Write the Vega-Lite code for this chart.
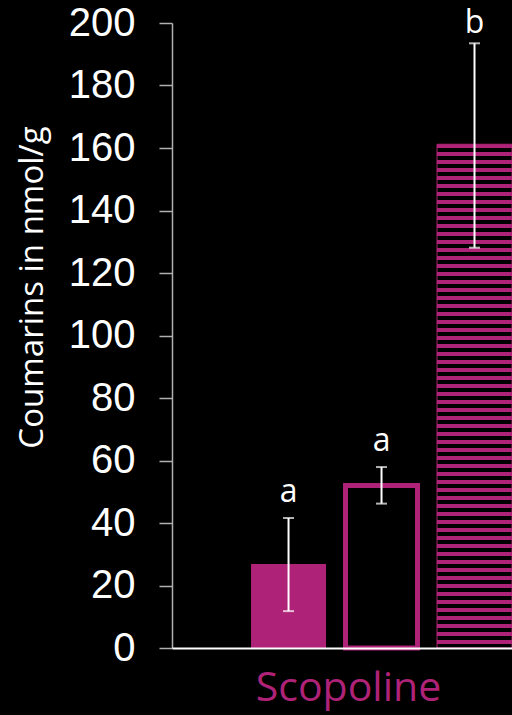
{
  "$schema": "https://vega.github.io/schema/vega-lite/v6.json",
  "width": 340,
  "height": 625,
  "autosize": {"type": "none"},
  "padding": {"left": 172, "top": 23, "right": 0, "bottom": 67},
  "background": "black",
  "config": {"view": {"stroke": null}},
  "data": {"values": [
    {"cond": "A", "mean": 26.9, "lo": 11.8, "hi": 41.6, "letter": "a"},
    {"cond": "B", "mean": 52.0, "lo": 46.2, "hi": 57.9, "letter": "a"},
    {"cond": "C", "mean": 161.2, "lo": 128.1, "hi": 193.5, "letter": "b"}
  ]},
  "encoding": {
    "x": {
      "field": "cond", "type": "nominal", "sort": ["A", "B", "C"],
      "scale": {"paddingInner": 0.1935, "paddingOuter": 0.425, "align": 1},
      "axis": {
        "title": "Scopoline", "labels": false, "ticks": false,
        "domainColor": "white", "domainWidth": 2, "zindex": 1,
        "titleColor": "#AE2277", "titleFont": "Open Sans", "titleFontSize": 41, "titleFontWeight": "normal",
        "titleX": 176, "titleY": 52, "titleAlign": "center", "titleBaseline": "alphabetic"
      }
    }
  },
  "layer": [
    {
      "transform": [{"filter": "datum.cond === 'A'"}],
      "mark": {"type": "bar", "fill": "#AE2277", "width": {"band": 1}},
      "encoding": {
        "y": {
          "field": "mean", "type": "quantitative", "title": "Coumarins in nmol/g",
          "scale": {"domain": [0, 200], "nice": false},
          "axis": {
            "values": [0, 20, 40, 60, 80, 100, 120, 140, 160, 180, 200],
            "grid": false, "domainColor": "#b0b0b0", "domainWidth": 1.5,
            "tickColor": "#b0b0b0", "tickWidth": 1.5, "tickSize": 13,
            "labelColor": "white", "labelFont": "Liberation Sans", "labelFontSize": 40,
            "labelPadding": 24, "labelOverlap": false, "labelFlush": false,
            "titleColor": "white", "titleFont": "Open Sans", "titleFontSize": 33, "titleFontWeight": "normal",
            "titleAngle": -90, "titleX": -130, "titleY": 264, "titleAlign": "center", "titleBaseline": "alphabetic"
          }
        }
      }
    },
    {
      "transform": [{"filter": "datum.cond === 'B'"}],
      "mark": {"type": "bar", "fill": "black", "stroke": "#AE2277", "strokeWidth": 5, "width": {"band": 0.96}},
      "encoding": {"y": {"field": "mean", "type": "quantitative", "title": "Coumarins in nmol/g"}}
    },
    {
      "transform": [{"filter": "datum.cond === 'C'"}],
      "mark": {
        "type": "bar", "stroke": "#AE2277", "strokeWidth": 1, "width": {"band": 1},
        "fill": {
          "gradient": "linear", "x1": 0, "y1": 0, "x2": 0, "y2": 1,
          "stops": [
            {"offset": 0, "color": "#AE2277"}, {"offset": 0.006944, "color": "#AE2277"}, {"offset": 0.006944, "color": "black"}, {"offset": 0.015873, "color": "black"},
            {"offset": 0.015873, "color": "#AE2277"}, {"offset": 0.022817, "color": "#AE2277"}, {"offset": 0.022817, "color": "black"}, {"offset": 0.031746, "color": "black"},
            {"offset": 0.031746, "color": "#AE2277"}, {"offset": 0.038690, "color": "#AE2277"}, {"offset": 0.038690, "color": "black"}, {"offset": 0.047619, "color": "black"},
            {"offset": 0.047619, "color": "#AE2277"}, {"offset": 0.054563, "color": "#AE2277"}, {"offset": 0.054563, "color": "black"}, {"offset": 0.063492, "color": "black"},
            {"offset": 0.063492, "color": "#AE2277"}, {"offset": 0.070436, "color": "#AE2277"}, {"offset": 0.070436, "color": "black"}, {"offset": 0.079365, "color": "black"},
            {"offset": 0.079365, "color": "#AE2277"}, {"offset": 0.086309, "color": "#AE2277"}, {"offset": 0.086309, "color": "black"}, {"offset": 0.095238, "color": "black"},
            {"offset": 0.095238, "color": "#AE2277"}, {"offset": 0.102182, "color": "#AE2277"}, {"offset": 0.102182, "color": "black"}, {"offset": 0.111111, "color": "black"},
            {"offset": 0.111111, "color": "#AE2277"}, {"offset": 0.118055, "color": "#AE2277"}, {"offset": 0.118055, "color": "black"}, {"offset": 0.126984, "color": "black"},
            {"offset": 0.126984, "color": "#AE2277"}, {"offset": 0.133928, "color": "#AE2277"}, {"offset": 0.133928, "color": "black"}, {"offset": 0.142857, "color": "black"},
            {"offset": 0.142857, "color": "#AE2277"}, {"offset": 0.149801, "color": "#AE2277"}, {"offset": 0.149801, "color": "black"}, {"offset": 0.158730, "color": "black"},
            {"offset": 0.158730, "color": "#AE2277"}, {"offset": 0.165674, "color": "#AE2277"}, {"offset": 0.165674, "color": "black"}, {"offset": 0.174603, "color": "black"},
            {"offset": 0.174603, "color": "#AE2277"}, {"offset": 0.181547, "color": "#AE2277"}, {"offset": 0.181547, "color": "black"}, {"offset": 0.190476, "color": "black"},
            {"offset": 0.190476, "color": "#AE2277"}, {"offset": 0.197420, "color": "#AE2277"}, {"offset": 0.197420, "color": "black"}, {"offset": 0.206349, "color": "black"},
            {"offset": 0.206349, "color": "#AE2277"}, {"offset": 0.213293, "color": "#AE2277"}, {"offset": 0.213293, "color": "black"}, {"offset": 0.222222, "color": "black"},
            {"offset": 0.222222, "color": "#AE2277"}, {"offset": 0.229166, "color": "#AE2277"}, {"offset": 0.229166, "color": "black"}, {"offset": 0.238095, "color": "black"},
            {"offset": 0.238095, "color": "#AE2277"}, {"offset": 0.245039, "color": "#AE2277"}, {"offset": 0.245039, "color": "black"}, {"offset": 0.253968, "color": "black"},
            {"offset": 0.253968, "color": "#AE2277"}, {"offset": 0.260912, "color": "#AE2277"}, {"offset": 0.260912, "color": "black"}, {"offset": 0.269841, "color": "black"},
            {"offset": 0.269841, "color": "#AE2277"}, {"offset": 0.276785, "color": "#AE2277"}, {"offset": 0.276785, "color": "black"}, {"offset": 0.285714, "color": "black"},
            {"offset": 0.285714, "color": "#AE2277"}, {"offset": 0.292658, "color": "#AE2277"}, {"offset": 0.292658, "color": "black"}, {"offset": 0.301587, "color": "black"},
            {"offset": 0.301587, "color": "#AE2277"}, {"offset": 0.308531, "color": "#AE2277"}, {"offset": 0.308531, "color": "black"}, {"offset": 0.317460, "color": "black"},
            {"offset": 0.317460, "color": "#AE2277"}, {"offset": 0.324404, "color": "#AE2277"}, {"offset": 0.324404, "color": "black"}, {"offset": 0.333333, "color": "black"},
            {"offset": 0.333333, "color": "#AE2277"}, {"offset": 0.340277, "color": "#AE2277"}, {"offset": 0.340277, "color": "black"}, {"offset": 0.349206, "color": "black"},
            {"offset": 0.349206, "color": "#AE2277"}, {"offset": 0.356150, "color": "#AE2277"}, {"offset": 0.356150, "color": "black"}, {"offset": 0.365079, "color": "black"},
            {"offset": 0.365079, "color": "#AE2277"}, {"offset": 0.372023, "color": "#AE2277"}, {"offset": 0.372023, "color": "black"}, {"offset": 0.380952, "color": "black"},
            {"offset": 0.380952, "color": "#AE2277"}, {"offset": 0.387896, "color": "#AE2277"}, {"offset": 0.387896, "color": "black"}, {"offset": 0.396825, "color": "black"},
            {"offset": 0.396825, "color": "#AE2277"}, {"offset": 0.403769, "color": "#AE2277"}, {"offset": 0.403769, "color": "black"}, {"offset": 0.412698, "color": "black"},
            {"offset": 0.412698, "color": "#AE2277"}, {"offset": 0.419642, "color": "#AE2277"}, {"offset": 0.419642, "color": "black"}, {"offset": 0.428571, "color": "black"},
            {"offset": 0.428571, "color": "#AE2277"}, {"offset": 0.435515, "color": "#AE2277"}, {"offset": 0.435515, "color": "black"}, {"offset": 0.444444, "color": "black"},
            {"offset": 0.444444, "color": "#AE2277"}, {"offset": 0.451388, "color": "#AE2277"}, {"offset": 0.451388, "color": "black"}, {"offset": 0.460317, "color": "black"},
            {"offset": 0.460317, "color": "#AE2277"}, {"offset": 0.467261, "color": "#AE2277"}, {"offset": 0.467261, "color": "black"}, {"offset": 0.476190, "color": "black"},
            {"offset": 0.476190, "color": "#AE2277"}, {"offset": 0.483134, "color": "#AE2277"}, {"offset": 0.483134, "color": "black"}, {"offset": 0.492063, "color": "black"},
            {"offset": 0.492063, "color": "#AE2277"}, {"offset": 0.499007, "color": "#AE2277"}, {"offset": 0.499007, "color": "black"}, {"offset": 0.507937, "color": "black"},
            {"offset": 0.507937, "color": "#AE2277"}, {"offset": 0.514881, "color": "#AE2277"}, {"offset": 0.514881, "color": "black"}, {"offset": 0.523810, "color": "black"},
            {"offset": 0.523810, "color": "#AE2277"}, {"offset": 0.530754, "color": "#AE2277"}, {"offset": 0.530754, "color": "black"}, {"offset": 0.539683, "color": "black"},
            {"offset": 0.539683, "color": "#AE2277"}, {"offset": 0.546627, "color": "#AE2277"}, {"offset": 0.546627, "color": "black"}, {"offset": 0.555556, "color": "black"},
            {"offset": 0.555556, "color": "#AE2277"}, {"offset": 0.562500, "color": "#AE2277"}, {"offset": 0.562500, "color": "black"}, {"offset": 0.571429, "color": "black"},
            {"offset": 0.571429, "color": "#AE2277"}, {"offset": 0.578373, "color": "#AE2277"}, {"offset": 0.578373, "color": "black"}, {"offset": 0.587302, "color": "black"},
            {"offset": 0.587302, "color": "#AE2277"}, {"offset": 0.594246, "color": "#AE2277"}, {"offset": 0.594246, "color": "black"}, {"offset": 0.603175, "color": "black"},
            {"offset": 0.603175, "color": "#AE2277"}, {"offset": 0.610119, "color": "#AE2277"}, {"offset": 0.610119, "color": "black"}, {"offset": 0.619048, "color": "black"},
            {"offset": 0.619048, "color": "#AE2277"}, {"offset": 0.625992, "color": "#AE2277"}, {"offset": 0.625992, "color": "black"}, {"offset": 0.634921, "color": "black"},
            {"offset": 0.634921, "color": "#AE2277"}, {"offset": 0.641865, "color": "#AE2277"}, {"offset": 0.641865, "color": "black"}, {"offset": 0.650794, "color": "black"},
            {"offset": 0.650794, "color": "#AE2277"}, {"offset": 0.657738, "color": "#AE2277"}, {"offset": 0.657738, "color": "black"}, {"offset": 0.666667, "color": "black"},
            {"offset": 0.666667, "color": "#AE2277"}, {"offset": 0.673611, "color": "#AE2277"}, {"offset": 0.673611, "color": "black"}, {"offset": 0.682540, "color": "black"},
            {"offset": 0.682540, "color": "#AE2277"}, {"offset": 0.689484, "color": "#AE2277"}, {"offset": 0.689484, "color": "black"}, {"offset": 0.698413, "color": "black"},
            {"offset": 0.698413, "color": "#AE2277"}, {"offset": 0.705357, "color": "#AE2277"}, {"offset": 0.705357, "color": "black"}, {"offset": 0.714286, "color": "black"},
            {"offset": 0.714286, "color": "#AE2277"}, {"offset": 0.721230, "color": "#AE2277"}, {"offset": 0.721230, "color": "black"}, {"offset": 0.730159, "color": "black"},
            {"offset": 0.730159, "color": "#AE2277"}, {"offset": 0.737103, "color": "#AE2277"}, {"offset": 0.737103, "color": "black"}, {"offset": 0.746032, "color": "black"},
            {"offset": 0.746032, "color": "#AE2277"}, {"offset": 0.752976, "color": "#AE2277"}, {"offset": 0.752976, "color": "black"}, {"offset": 0.761905, "color": "black"},
            {"offset": 0.761905, "color": "#AE2277"}, {"offset": 0.768849, "color": "#AE2277"}, {"offset": 0.768849, "color": "black"}, {"offset": 0.777778, "color": "black"},
            {"offset": 0.777778, "color": "#AE2277"}, {"offset": 0.784722, "color": "#AE2277"}, {"offset": 0.784722, "color": "black"}, {"offset": 0.793651, "color": "black"},
            {"offset": 0.793651, "color": "#AE2277"}, {"offset": 0.800595, "color": "#AE2277"}, {"offset": 0.800595, "color": "black"}, {"offset": 0.809524, "color": "black"},
            {"offset": 0.809524, "color": "#AE2277"}, {"offset": 0.816468, "color": "#AE2277"}, {"offset": 0.816468, "color": "black"}, {"offset": 0.825397, "color": "black"},
            {"offset": 0.825397, "color": "#AE2277"}, {"offset": 0.832341, "color": "#AE2277"}, {"offset": 0.832341, "color": "black"}, {"offset": 0.841270, "color": "black"},
            {"offset": 0.841270, "color": "#AE2277"}, {"offset": 0.848214, "color": "#AE2277"}, {"offset": 0.848214, "color": "black"}, {"offset": 0.857143, "color": "black"},
            {"offset": 0.857143, "color": "#AE2277"}, {"offset": 0.864087, "color": "#AE2277"}, {"offset": 0.864087, "color": "black"}, {"offset": 0.873016, "color": "black"},
            {"offset": 0.873016, "color": "#AE2277"}, {"offset": 0.879960, "color": "#AE2277"}, {"offset": 0.879960, "color": "black"}, {"offset": 0.888889, "color": "black"},
            {"offset": 0.888889, "color": "#AE2277"}, {"offset": 0.895833, "color": "#AE2277"}, {"offset": 0.895833, "color": "black"}, {"offset": 0.904762, "color": "black"},
            {"offset": 0.904762, "color": "#AE2277"}, {"offset": 0.911706, "color": "#AE2277"}, {"offset": 0.911706, "color": "black"}, {"offset": 0.920635, "color": "black"},
            {"offset": 0.920635, "color": "#AE2277"}, {"offset": 0.927579, "color": "#AE2277"}, {"offset": 0.927579, "color": "black"}, {"offset": 0.936508, "color": "black"},
            {"offset": 0.936508, "color": "#AE2277"}, {"offset": 0.943452, "color": "#AE2277"}, {"offset": 0.943452, "color": "black"}, {"offset": 0.952381, "color": "black"},
            {"offset": 0.952381, "color": "#AE2277"}, {"offset": 0.959325, "color": "#AE2277"}, {"offset": 0.959325, "color": "black"}, {"offset": 0.968254, "color": "black"},
            {"offset": 0.968254, "color": "#AE2277"}, {"offset": 0.975198, "color": "#AE2277"}, {"offset": 0.975198, "color": "black"}, {"offset": 0.984127, "color": "black"},
            {"offset": 0.984127, "color": "#AE2277"}, {"offset": 0.991071, "color": "#AE2277"}, {"offset": 0.991071, "color": "black"}, {"offset": 1, "color": "black"}
          ]
        }
      },
      "encoding": {"y": {"field": "mean", "type": "quantitative", "title": "Coumarins in nmol/g"}}
    },
    {
      "mark": {"type": "rule", "color": "white", "strokeWidth": 2},
      "encoding": {
        "y": {"field": "lo", "type": "quantitative", "title": "Coumarins in nmol/g"},
        "y2": {"field": "hi"}
      }
    },
    {
      "mark": {"type": "tick", "color": "white", "size": 11, "thickness": 2},
      "encoding": {"y": {"field": "hi", "type": "quantitative", "title": "Coumarins in nmol/g"}}
    },
    {
      "mark": {"type": "tick", "color": "white", "size": 11, "thickness": 2},
      "encoding": {"y": {"field": "lo", "type": "quantitative", "title": "Coumarins in nmol/g"}}
    },
    {
      "transform": [{"filter": "datum.cond !== 'C'"}],
      "mark": {"type": "text", "color": "white", "font": "Open Sans", "fontSize": 32, "baseline": "alphabetic", "dy": -16},
      "encoding": {
        "y": {"field": "hi", "type": "quantitative", "title": "Coumarins in nmol/g"},
        "text": {"field": "letter"}
      }
    },
    {
      "transform": [{"filter": "datum.cond === 'C'"}],
      "mark": {"type": "text", "color": "white", "font": "Open Sans", "fontSize": 32, "baseline": "alphabetic", "dy": -10},
      "encoding": {
        "y": {"field": "hi", "type": "quantitative", "title": "Coumarins in nmol/g"},
        "text": {"field": "letter"}
      }
    }
  ]
}
